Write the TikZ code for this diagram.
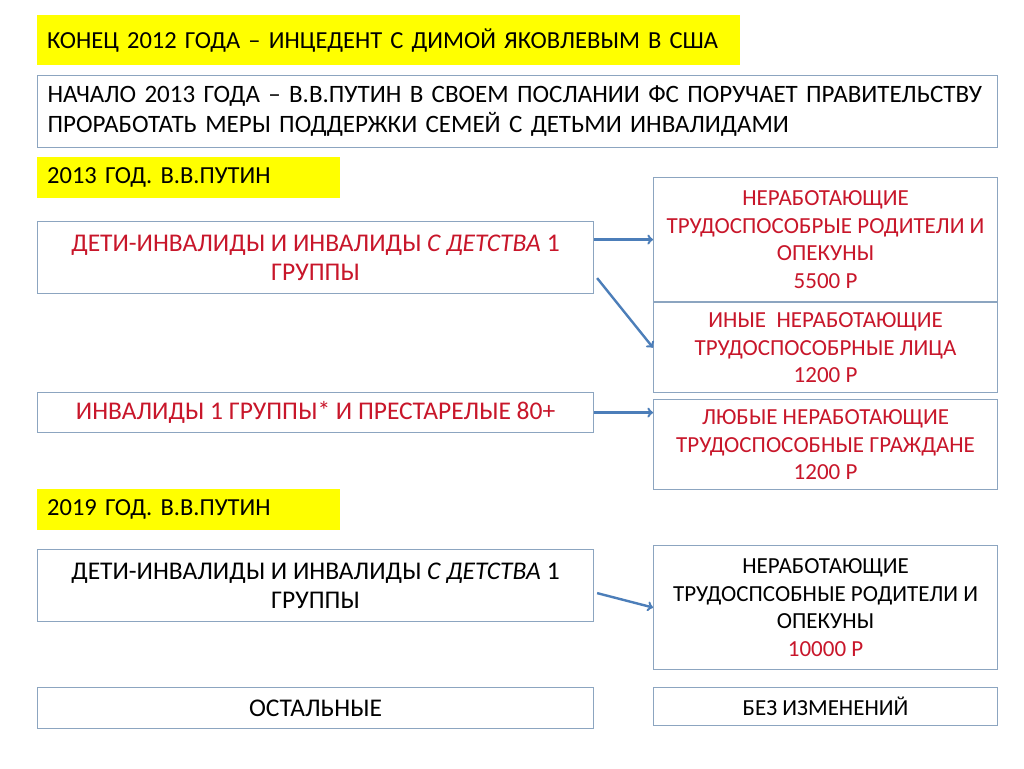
\documentclass[tikz,border=0pt]{standalone}
\usepackage{fontspec}
\setmainfont{Carlito}
\usetikzlibrary{positioning}

\definecolor{hlyellow}{RGB}{255,255,0}
\definecolor{boxline}{RGB}{140,165,192}
\definecolor{textred}{RGB}{200,22,42}
\definecolor{arrowblue}{RGB}{76,126,185}

\begin{document}
\begin{tikzpicture}[x=1pt, y=-1pt,
    headline/.style={fill=hlyellow, anchor=north west, inner xsep=10pt, inner ysep=0pt, align=left,
        font=\fontsize{24.5}{30}\selectfont},
    box/.style={draw=boxline, line width=1.1pt, fill=white, anchor=north west, align=center,
        inner sep=0pt, font=\fontsize{25.5}{29.5}\selectfont},
    sidebox/.style={box, minimum width=344pt, font=\fontsize{23}{27.5}\selectfont},
    link/.style={->, draw=arrowblue, line width=2.4pt}
]
    \useasboundingbox[fill=white] (0,0) rectangle (1024,768);

    % Headlines
    \node[headline, minimum width=703pt, minimum height=50pt, text width=683pt] (head_2012) at (37,15)
        {КОНЕЦ 2012 ГОДА – ИНЦЕДЕНТ С ДИМОЙ ЯКОВЛЕВЫМ В США};
    \node[box, align=left, text width=940pt, inner xsep=10pt, minimum height=72pt,
        font=\fontsize{25}{30}\selectfont] (message) at (37,75)
        {НАЧАЛО 2013 ГОДА – В.В.ПУТИН В СВОЕМ ПОСЛАНИИ ФС ПОРУЧАЕТ ПРАВИТЕЛЬСТВУ\\
         ПРОРАБОТАТЬ МЕРЫ ПОДДЕРЖКИ СЕМЕЙ С ДЕТЬМИ ИНВАЛИДАМИ};
    \node[headline, minimum width=303pt, minimum height=41pt, text width=283pt] (head_2013) at (37,157)
        {2013 ГОД. В.В.ПУТИН};

    % 2013 groups
    \node[box, minimum width=556pt, minimum height=72pt, text=textred] (kids_2013) at (37,221)
        {ДЕТИ-ИНВАЛИДЫ И ИНВАЛИДЫ \textit{С ДЕТСТВА} 1\\ГРУППЫ};
    \node[box, minimum width=556pt, minimum height=40pt, text=textred] (disabled_2013) at (37,392)
        {ИНВАЛИДЫ 1 ГРУППЫ* И ПРЕСТАРЕЛЫЕ 80+};

    % 2013 payments
    \node[sidebox, minimum height=124pt, text=textred] (parents_2013) at (653,177)
        {НЕРАБОТАЮЩИЕ\\ТРУДОСПОСОБРЫЕ РОДИТЕЛИ И\\ОПЕКУНЫ\\5500 Р};
    \node[sidebox, minimum height=90pt, text=textred, below=0pt of parents_2013] (others_2013)
        {ИНЫЕ~ НЕРАБОТАЮЩИЕ\\ТРУДОСПОСОБРНЫЕ ЛИЦА\\1200 Р};
    \node[sidebox, minimum height=90pt, text=textred, below=6pt of others_2013] (anyone_2013)
        {ЛЮБЫЕ НЕРАБОТАЮЩИЕ\\ТРУДОСПОСОБНЫЕ ГРАЖДАНЕ\\1200 Р};

    % 2019
    \node[headline, minimum width=303pt, minimum height=41pt, text width=283pt] (head_2019) at (37,489)
        {2019 ГОД. В.В.ПУТИН};
    \node[box, minimum width=556pt, minimum height=72pt] (kids_2019) at (37,549)
        {ДЕТИ-ИНВАЛИДЫ И ИНВАЛИДЫ \textit{С ДЕТСТВА} 1\\ГРУППЫ};
    \node[sidebox, minimum height=124pt] (parents_2019) at (653,545)
        {НЕРАБОТАЮЩИЕ\\ТРУДОСПСОБНЫЕ РОДИТЕЛИ И\\ОПЕКУНЫ\\\textcolor{textred}{10000 Р}};
    \node[box, minimum width=556pt, minimum height=41pt] (rest_2019) at (37,687)
        {ОСТАЛЬНЫЕ};
    \node[sidebox, minimum height=38pt] (nochange_2019) at (653,687)
        {БЕЗ ИЗМЕНЕНИЙ};

    % Arrows
    \draw[link] (kids_2013.east |- parents_2013.west) -- (parents_2013.west);
    \draw[link] ([xshift=3pt, yshift=16pt]kids_2013.south east) -- (others_2013.west);
    \draw[link] (disabled_2013.east) -- (anyone_2013.west |- disabled_2013.east);
    \draw[link] ([xshift=3pt, yshift=29pt]kids_2019.south east) -- (parents_2019.west);
\end{tikzpicture}
\end{document}
